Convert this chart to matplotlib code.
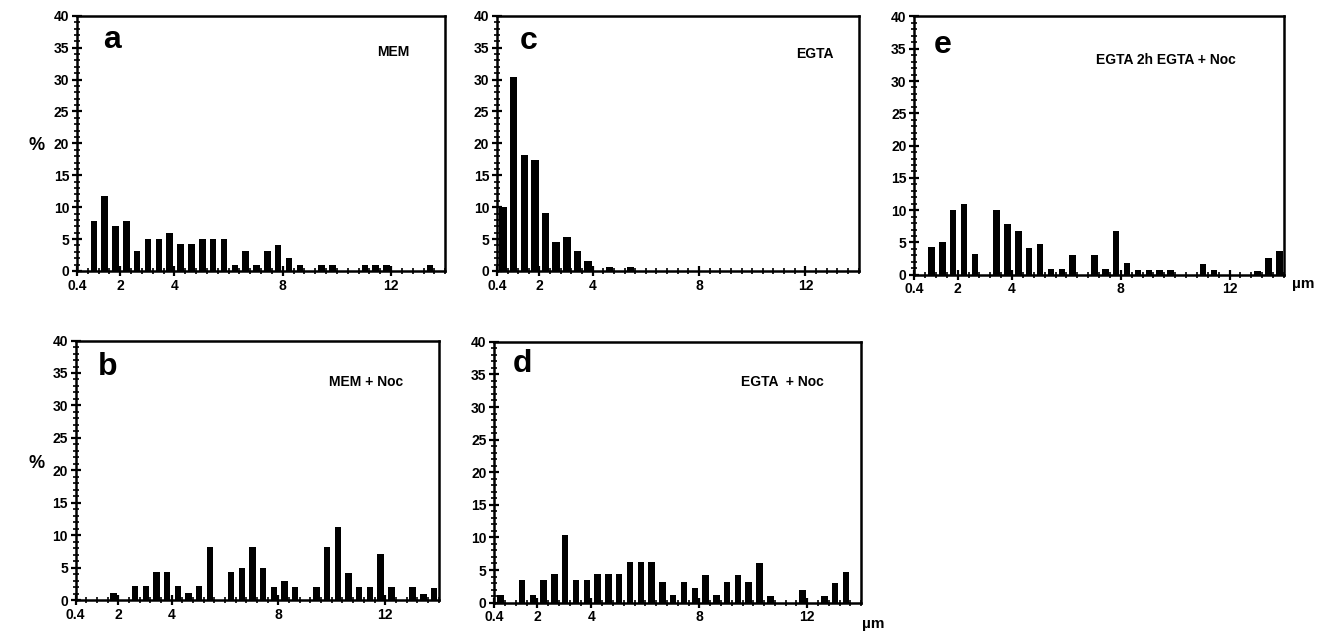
import numpy as np
import matplotlib.pyplot as plt
from matplotlib.ticker import FixedLocator, MultipleLocator

plt.rcParams['font.family'] = ['Liberation Sans', 'DejaVu Sans']
plt.rcParams['font.weight'] = 'bold'

# length classes of 0.4 um, starting at 0.4 um (34 classes)
bin_index = np.arange(34)
x_ticks = [0.4, 2, 4, 8, 12]
x_ticklabels = ['0.4', '2', '4', '8', '12']
y_ticks = np.arange(0, 41, 5)

# % of cells per length class
mem = [0, 7.8, 11.7, 7, 7.8, 3.2, 5, 5, 6, 4.3,
       4.3, 5, 5, 5, 1, 3.1, 1, 3.1, 4, 2,
       1, 0, 1, 1, 0, 0, 1, 1, 1, 0,
       0, 0, 1, 0]
mem_noc = [0, 0, 0, 1.1, 0, 2.1, 2.1, 4.3, 4.3, 2.1,
           1.1, 2.1, 8.2, 0, 4.3, 5, 8.2, 5, 2, 3,
           2, 0, 2, 8.2, 11.3, 4.2, 2, 2, 7.1, 2,
           0, 2, 1, 1.9]
egta = [10, 30.4, 18.2, 17.4, 9.1, 4.5, 5.3, 3.2, 1.6, 0,
        0.6, 0, 0.6, 0, 0, 0, 0, 0, 0, 0,
        0, 0, 0, 0, 0, 0, 0, 0, 0, 0,
        0, 0, 0, 0]
egta_noc = [1.2, 0, 3.4, 1.2, 3.4, 4.4, 10.4, 3.4, 3.4, 4.4,
            4.4, 4.4, 6.2, 6.2, 6.2, 3.2, 1.2, 3.2, 2.2, 4.2,
            1.2, 3.2, 4.2, 3.2, 6, 1, 0, 0, 2, 0,
            1, 3, 4.7, 0]
egta_2h_noc = [0, 4.3, 5, 10, 11, 3.2, 0, 10, 7.8, 6.8,
               4.1, 4.7, 0.9, 0.9, 3, 0, 3, 0.9, 6.7, 1.8,
               0.8, 0.8, 0.8, 0.8, 0, 0, 1.6, 0.7, 0, 0,
               0, 0.6, 2.6, 3.6]

panel_letters = ['a', 'b', 'c', 'd', 'e']
panel_titles = ['MEM', 'MEM + Noc', 'EGTA', 'EGTA  + Noc', 'EGTA 2h EGTA + Noc']
panel_data = [mem, mem_noc, egta, egta_noc, egta_2h_noc]

bar_x = 0.63 + 0.4 * bin_index
edges = 0.4 + 0.4 * np.arange(35)

fig = plt.figure(figsize=(13.25, 6.33), dpi=100)
rects = [
    [0.058, 0.572, 0.278, 0.403],
    [0.057, 0.052, 0.274, 0.410],
    [0.375, 0.572, 0.273, 0.403],
    [0.373, 0.048, 0.277, 0.412],
    [0.690, 0.566, 0.279, 0.408],
]
title_pos = [(0.86, 0.86), (0.80, 0.84), (0.88, 0.85), (0.785, 0.845), (0.68, 0.83)]
letter_pos = [(0.095, 0.905), (0.088, 0.90), (0.088, 0.90), (0.076, 0.915), (0.076, 0.89)]

for k in range(5):
    ax = fig.add_axes(rects[k])
    w = 0.28 if panel_letters[k] == 'c' else 0.24
    ax.bar(bar_x, panel_data[k], width=w, color='black')
    ax.set_xlim(0.4, 14.0)
    ax.set_ylim(0, 40)
    ax.xaxis.set_major_locator(FixedLocator(x_ticks))
    ax.set_xticklabels(x_ticklabels)
    ax.xaxis.set_minor_locator(FixedLocator(edges))
    ax.set_yticks(y_ticks)
    ax.yaxis.set_minor_locator(MultipleLocator(1))
    ax.tick_params(which='major', direction='inout', length=7, width=1.6,
                   labelsize=10, pad=2)
    ax.tick_params(which='minor', direction='inout', length=4, width=1.2)
    for s in ax.spines.values():
        s.set_linewidth(1.8)
    ax.text(letter_pos[k][0], letter_pos[k][1], panel_letters[k],
            transform=ax.transAxes, fontsize=23, fontweight='bold',
            ha='center', va='center')
    ax.text(title_pos[k][0], title_pos[k][1], panel_titles[k],
            transform=ax.transAxes, fontsize=10, fontweight='bold',
            ha='center', va='center')

fig.text(37 / 1325, 1 - 145 / 633, '%', fontsize=13, fontweight='bold',
         ha='center', va='center')
fig.text(37 / 1325, 1 - 463 / 633, '%', fontsize=13, fontweight='bold',
         ha='center', va='center')
fig.text(1303 / 1325, 1 - 284 / 633, 'µm', fontsize=11, fontweight='bold',
         ha='center', va='center')
fig.text(873 / 1325, 1 - 624 / 633, 'µm', fontsize=11, fontweight='bold',
         ha='center', va='center')

fig.savefig('out.png', dpi=100)
